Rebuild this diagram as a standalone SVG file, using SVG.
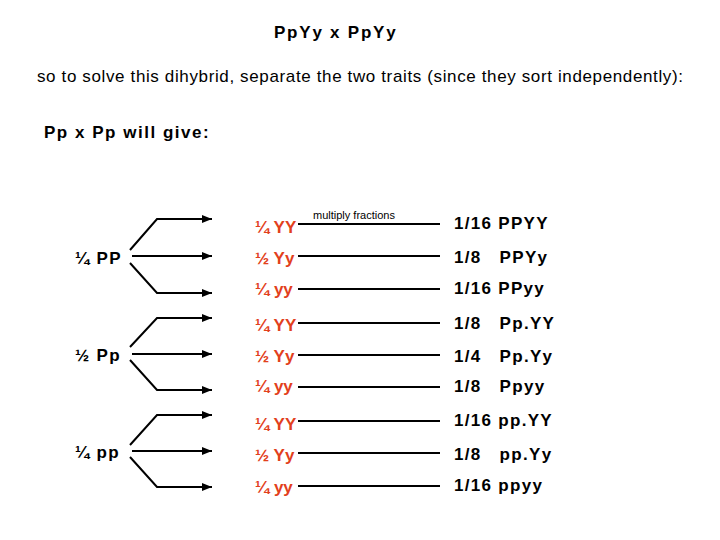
<svg xmlns="http://www.w3.org/2000/svg" width="720" height="540" viewBox="0 0 720 540">
<style>
text{font-family:"Liberation Sans",Arial,sans-serif;white-space:pre}
.b{font-weight:bold;font-size:17px;fill:#000;letter-spacing:1.3px}
.r{font-weight:bold;font-size:17px;fill:#e2401c}
.l{stroke:#000;stroke-width:2;fill:none}
</style>
<defs><marker id="a" viewBox="0 0 10 10" refX="10" refY="5" markerWidth="5" markerHeight="5" orient="auto"><path d="M0,1 L10,5 L0,9z" fill="#000"/></marker></defs>
<rect width="720" height="540" fill="#fff"/>
<text x="274" y="38" class="b" textLength="123">PpYy x PpYy</text>
<text x="37" y="82" font-size="17" textLength="646">so to solve this dihybrid, separate the two traits (since they sort independently):</text>
<text x="44" y="138" class="b" textLength="166">Pp x Pp will give:</text>
<g id="sources">
<text x="75" y="264" class="b">¼ PP</text>
<text x="75" y="361" class="b">½ Pp</text>
<text x="75" y="458" class="b">¼ pp</text>
</g>
<g id="connectors" class="l">
<path d="M130,250 L157,219 L212,219" marker-end="url(#a)"/>
<path d="M132,256 L212,256" marker-end="url(#a)"/>
<path d="M130,263 L157,293 L212,293" marker-end="url(#a)"/>
<path d="M130,347 L157,318 L212,318" marker-end="url(#a)"/>
<path d="M132,354 L212,354" marker-end="url(#a)"/>
<path d="M130,360 L157,390 L212,390" marker-end="url(#a)"/>
<path d="M130,445 L157,415 L212,415" marker-end="url(#a)"/>
<path d="M132,451 L212,451" marker-end="url(#a)"/>
<path d="M130,457 L157,487 L212,487" marker-end="url(#a)"/>
<path d="M298,224 H440 M298,256 H440 M298,289 H440 M298,323 H440 M298,355 H440 M298,387 H440 M298,421 H440 M298,453 H440 M298,486 H440"/>
</g>
<text x="313" y="219" font-size="11">multiply fractions</text>
<g id="middle">
<text x="255" y="233" class="r">¼ YY</text>
<text x="255" y="264" class="r">½ Yy</text>
<text x="255" y="295" class="r">¼ yy</text>
<text x="255" y="331" class="r">¼ YY</text>
<text x="255" y="362" class="r">½ Yy</text>
<text x="255" y="392" class="r">¼ yy</text>
<text x="255" y="430" class="r">¼ YY</text>
<text x="255" y="461" class="r">½ Yy</text>
<text x="255" y="493" class="r">¼ yy</text>
</g>
<g id="results">
<text x="454" y="229" class="b" xml:space="preserve">1/16 PPYY</text>
<text x="454" y="263" class="b" xml:space="preserve">1/8   PPYy</text>
<text x="454" y="294" class="b" xml:space="preserve">1/16 PPyy</text>
<text x="454" y="329" class="b" xml:space="preserve">1/8   Pp.YY</text>
<text x="454" y="362" class="b" xml:space="preserve">1/4   Pp.Yy</text>
<text x="454" y="392" class="b" xml:space="preserve">1/8   Ppyy</text>
<text x="454" y="426" class="b" xml:space="preserve">1/16 pp.YY</text>
<text x="454" y="460" class="b" xml:space="preserve">1/8   pp.Yy</text>
<text x="454" y="491" class="b" xml:space="preserve">1/16 ppyy</text>
</g>
</svg>
